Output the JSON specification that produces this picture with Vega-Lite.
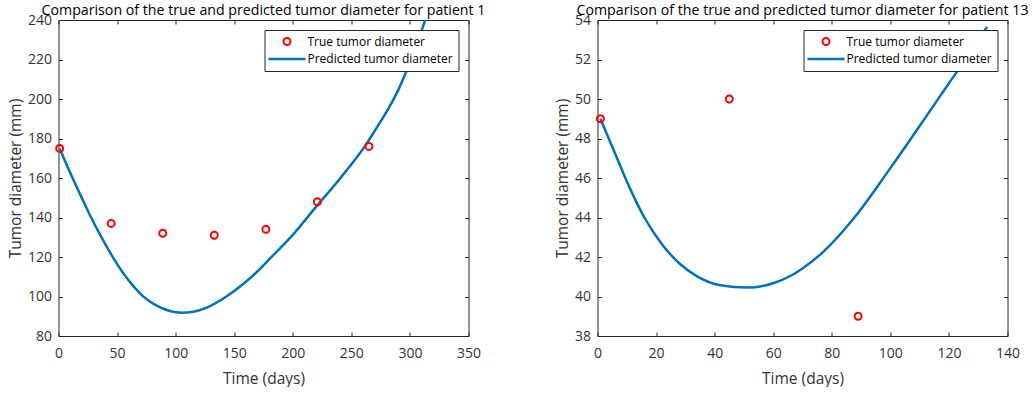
{
  "$schema": "https://vega.github.io/schema/vega-lite/v6.json",
  "padding": {"left": 8.5, "top": 3, "right": 0, "bottom": 0},
  "background": "white",
  "datasets": {
    "obs": [
      {"patient": 1, "time": 1, "diameter": 175},
      {"patient": 1, "time": 45, "diameter": 137},
      {"patient": 1, "time": 89, "diameter": 132},
      {"patient": 1, "time": 133, "diameter": 131},
      {"patient": 1, "time": 177, "diameter": 134},
      {"patient": 1, "time": 221, "diameter": 148},
      {"patient": 1, "time": 265, "diameter": 176},
      {"patient": 13, "time": 1, "diameter": 49},
      {"patient": 13, "time": 45, "diameter": 50},
      {"patient": 13, "time": 89, "diameter": 39}
    ],
    "pred": [
      {"patient": 1, "time": 1, "diameter": 175},
      {"patient": 1, "time": 6, "diameter": 168},
      {"patient": 1, "time": 12, "diameter": 160},
      {"patient": 1, "time": 20, "diameter": 149.8},
      {"patient": 1, "time": 27, "diameter": 141},
      {"patient": 1, "time": 35, "diameter": 131.8},
      {"patient": 1, "time": 46, "diameter": 120.3},
      {"patient": 1, "time": 55, "diameter": 112},
      {"patient": 1, "time": 65, "diameter": 104.5},
      {"patient": 1, "time": 72, "diameter": 100.2},
      {"patient": 1, "time": 83, "diameter": 95.6},
      {"patient": 1, "time": 95, "diameter": 92.7},
      {"patient": 1, "time": 105, "diameter": 91.8},
      {"patient": 1, "time": 115, "diameter": 92.3},
      {"patient": 1, "time": 125, "diameter": 94},
      {"patient": 1, "time": 143, "diameter": 99.9},
      {"patient": 1, "time": 160, "diameter": 107.5},
      {"patient": 1, "time": 171, "diameter": 113.4},
      {"patient": 1, "time": 181, "diameter": 119.5},
      {"patient": 1, "time": 200, "diameter": 131.2},
      {"patient": 1, "time": 220, "diameter": 145.5},
      {"patient": 1, "time": 240, "diameter": 159.5},
      {"patient": 1, "time": 262, "diameter": 176.5},
      {"patient": 1, "time": 272, "diameter": 185.8},
      {"patient": 1, "time": 282, "diameter": 195.5},
      {"patient": 1, "time": 290, "diameter": 204.5},
      {"patient": 1, "time": 297, "diameter": 214},
      {"patient": 1, "time": 305, "diameter": 226},
      {"patient": 1, "time": 313, "diameter": 240},
      {"patient": 13, "time": 1, "diameter": 49.0},
      {"patient": 13, "time": 5, "diameter": 47.6},
      {"patient": 13, "time": 11, "diameter": 45.5},
      {"patient": 13, "time": 16, "diameter": 44.0},
      {"patient": 13, "time": 22, "diameter": 42.65},
      {"patient": 13, "time": 28, "diameter": 41.67},
      {"patient": 13, "time": 34, "diameter": 41.02},
      {"patient": 13, "time": 42, "diameter": 40.57},
      {"patient": 13, "time": 51, "diameter": 40.45},
      {"patient": 13, "time": 60, "diameter": 40.67},
      {"patient": 13, "time": 66, "diameter": 41.05},
      {"patient": 13, "time": 70, "diameter": 41.42},
      {"patient": 13, "time": 77, "diameter": 42.25},
      {"patient": 13, "time": 88, "diameter": 44.05},
      {"patient": 13, "time": 100, "diameter": 46.5},
      {"patient": 13, "time": 111, "diameter": 48.85},
      {"patient": 13, "time": 120, "diameter": 50.8},
      {"patient": 13, "time": 127, "diameter": 52.3},
      {"patient": 13, "time": 133, "diameter": 53.65}
    ]
  },
  "config": {
    "font": "Open Sans",
    "view": {"stroke": null},
    "axis": {
      "grid": false,
      "domainColor": "#262626",
      "tickColor": "#262626",
      "labelColor": "#333333",
      "titleColor": "#333333",
      "labelFont": "Open Sans",
      "titleFont": "Open Sans",
      "labelFontSize": 14,
      "titleFontSize": 15.5,
      "titleFontWeight": "normal",
      "tickSize": -4,
      "labelFlush": false,
      "labelOverlap": false,
      "labelBound": false
    },
    "title": {
      "font": "Open Sans",
      "fontSize": 14.2,
      "fontWeight": "normal",
      "color": "#000000",
      "anchor": "middle",
      "frame": "group",
      "offset": -5
    },
    "legend": {
      "labelFont": "Open Sans",
      "labelFontSize": 12,
      "labelColor": "#000000"
    }
  },
  "resolve": {"scale": {"color": "independent"}},
  "spacing": 70,
  "hconcat": [
    {
      "title": "Comparison of the true and predicted tumor diameter for patient 1",
      "width": 410,
      "height": 316,
      "resolve": {"axis": {"x": "independent", "y": "independent"}},
      "layer": [
        {
          "data": {"name": "pred"},
          "transform": [{"filter": "datum.patient === 1"}],
          "mark": {"type": "line", "strokeWidth": 2.5, "clip": true, "interpolate": "monotone"},
          "encoding": {
            "x": {"field": "time", "type": "quantitative", "scale": {"domain": [0, 350], "nice": false},
                  "axis": {"orient": "top", "labels": false, "title": null, "values": [0, 50, 100, 150, 200, 250, 300, 350]}},
            "y": {"field": "diameter", "type": "quantitative", "scale": {"domain": [80, 240], "nice": false, "zero": false},
                  "axis": {"orient": "right", "labels": false, "title": null, "values": [80, 100, 120, 140, 160, 180, 200, 220, 240]}},
            "color": {"datum": "Predicted tumor diameter", "type": "nominal",
                      "scale": {"domain": ["True tumor diameter", "Predicted tumor diameter"], "range": ["#ff0000", "#0072bd"]},
                      "legend": {
                        "title": null, "orient": "top-right", "offset": 10, "padding": 5.5,
                        "strokeColor": "#262626", "fillColor": "white",
                        "symbolSize": 49, "symbolOffset": 11, "labelOffset": 14.5, "rowPadding": 3.5,
                        "encode": {"symbols": {"update": {
                          "shape": {"signal": "datum.value === 'True tumor diameter' ? 'circle' : 'M-5.3,0H5.3'"},
                          "size": {"value": 49},
                          "strokeWidth": {"signal": "datum.value === 'True tumor diameter' ? 2 : 2.5"},
                          "fill": {"value": "transparent"},
                          "stroke": {"signal": "datum.value === 'True tumor diameter' ? '#ff0000' : '#0072bd'"},
                          "opacity": {"value": 1}
                        }}}
                      }}
          }
        },
        {
          "data": {"name": "obs"},
          "transform": [{"filter": "datum.patient === 1"}],
          "mark": {"type": "point", "shape": "circle", "filled": false, "size": 49, "strokeWidth": 2, "opacity": 1},
          "encoding": {
            "x": {"field": "time", "type": "quantitative",
                  "axis": {"orient": "bottom", "title": "Time (days)", "labelPadding": 14, "titlePadding": 11, "values": [0, 50, 100, 150, 200, 250, 300, 350]}},
            "y": {"field": "diameter", "type": "quantitative",
                  "axis": {"orient": "left", "title": "Tumor diameter (mm)", "labelPadding": 11, "titlePadding": 3.5, "values": [80, 100, 120, 140, 160, 180, 200, 220, 240]}},
            "color": {"datum": "True tumor diameter", "type": "nominal"}
          }
        }
      ]
    },
    {
      "title": "Comparison of the true and predicted tumor diameter for patient 13",
      "width": 410,
      "height": 316,
      "resolve": {"axis": {"x": "independent", "y": "independent"}},
      "layer": [
        {
          "data": {"name": "pred"},
          "transform": [{"filter": "datum.patient === 13"}],
          "mark": {"type": "line", "strokeWidth": 2.5, "clip": true, "interpolate": "monotone"},
          "encoding": {
            "x": {"field": "time", "type": "quantitative", "scale": {"domain": [0, 140], "nice": false},
                  "axis": {"orient": "top", "labels": false, "title": null, "values": [0, 20, 40, 60, 80, 100, 120, 140]}},
            "y": {"field": "diameter", "type": "quantitative", "scale": {"domain": [38, 54], "nice": false, "zero": false},
                  "axis": {"orient": "right", "labels": false, "title": null, "values": [38, 40, 42, 44, 46, 48, 50, 52, 54]}},
            "color": {"datum": "Predicted tumor diameter", "type": "nominal",
                      "scale": {"domain": ["True tumor diameter", "Predicted tumor diameter"], "range": ["#ff0000", "#0072bd"]},
                      "legend": {
                        "title": null, "orient": "top-right", "offset": 10, "padding": 5.5,
                        "strokeColor": "#262626", "fillColor": "white",
                        "symbolSize": 49, "symbolOffset": 11, "labelOffset": 14.5, "rowPadding": 3.5,
                        "encode": {"symbols": {"update": {
                          "shape": {"signal": "datum.value === 'True tumor diameter' ? 'circle' : 'M-5.3,0H5.3'"},
                          "size": {"value": 49},
                          "strokeWidth": {"signal": "datum.value === 'True tumor diameter' ? 2 : 2.5"},
                          "fill": {"value": "transparent"},
                          "stroke": {"signal": "datum.value === 'True tumor diameter' ? '#ff0000' : '#0072bd'"},
                          "opacity": {"value": 1}
                        }}}
                      }}
          }
        },
        {
          "data": {"name": "obs"},
          "transform": [{"filter": "datum.patient === 13"}],
          "mark": {"type": "point", "shape": "circle", "filled": false, "size": 49, "strokeWidth": 2, "opacity": 1},
          "encoding": {
            "x": {"field": "time", "type": "quantitative",
                  "axis": {"orient": "bottom", "title": "Time (days)", "labelPadding": 14, "titlePadding": 11, "values": [0, 20, 40, 60, 80, 100, 120, 140]}},
            "y": {"field": "diameter", "type": "quantitative",
                  "axis": {"orient": "left", "title": "Tumor diameter (mm)", "labelPadding": 11, "titlePadding": 3.5, "values": [38, 40, 42, 44, 46, 48, 50, 52, 54]}},
            "color": {"datum": "True tumor diameter", "type": "nominal"}
          }
        }
      ]
    }
  ]
}
